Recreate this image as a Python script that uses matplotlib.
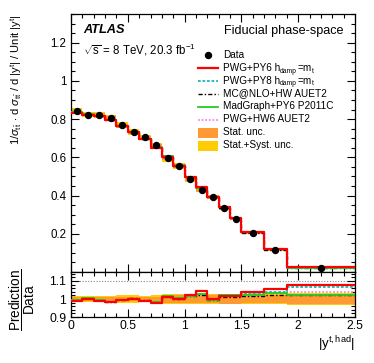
import numpy as np
import matplotlib
matplotlib.use("Agg")
import matplotlib.pyplot as plt
from matplotlib.lines import Line2D
from matplotlib.patches import Rectangle
from matplotlib.ticker import MultipleLocator

plt.rcParams['font.family'] = ['Liberation Sans', 'DejaVu Sans']
plt.rcParams['mathtext.fontset'] = 'custom'
plt.rcParams['mathtext.rm'] = 'Liberation Sans'
plt.rcParams['mathtext.it'] = 'Liberation Sans:italic'
plt.rcParams['mathtext.bf'] = 'Liberation Sans:bold'

# ---- data ----
bin_edges = [0.0, 0.1, 0.2, 0.3, 0.4, 0.5, 0.6, 0.7, 0.8, 0.9, 1.0,
             1.1, 1.2, 1.3, 1.4, 1.5, 1.7, 1.9, 2.5]
data_vals = [0.841, 0.824, 0.823, 0.807, 0.768, 0.732, 0.704, 0.664, 0.596,
             0.555, 0.487, 0.429, 0.393, 0.334, 0.278, 0.202, 0.115, 0.022]
stat_rel = [0.010, 0.010, 0.010, 0.010, 0.010, 0.010, 0.010, 0.012, 0.020,
            0.020, 0.021, 0.021, 0.022, 0.025, 0.025, 0.020, 0.024, 0.028]
stat_syst_rel = [0.018, 0.018, 0.018, 0.018, 0.020, 0.020, 0.018, 0.020, 0.030,
                 0.030, 0.028, 0.028, 0.028, 0.028, 0.028, 0.026, 0.030, 0.036]
# prediction / data ratios
ratio_pwgpy6 = [0.988, 1.000, 0.990, 0.983, 0.992, 1.000, 0.987, 0.978, 1.010,
                1.000, 1.022, 1.042, 1.000, 1.015, 1.018, 1.040, 1.053, 1.075]
ratio_pwgpy8 = [0.992, 1.002, 0.993, 0.985, 0.995, 1.002, 0.990, 0.982, 1.012,
                1.003, 1.018, 1.030, 0.998, 1.020, 1.020, 1.030, 1.038, 1.064]
ratio_mcnlo = [0.995, 1.003, 0.994, 0.986, 0.996, 1.004, 0.992, 0.985, 1.012,
               1.002, 1.015, 1.025, 0.995, 1.010, 1.012, 1.018, 1.020, 1.020]
ratio_madgraph = [0.995, 1.003, 0.993, 0.985, 0.996, 1.002, 0.991, 0.983, 1.015,
                  1.005, 1.018, 1.028, 0.995, 1.022, 1.022, 1.025, 1.031, 1.024]
ratio_pwghw6 = [0.993, 1.002, 0.992, 0.984, 0.994, 1.001, 0.990, 0.982, 1.011,
                1.002, 1.018, 1.030, 0.998, 1.020, 1.020, 1.030, 1.036, 1.040]

# legend labels: list of (text, is_subscript) pieces
label_pwgpy6 = [("PWG+PY6 h", False), ("damp", True), ("=m", False), ("t", True)]
label_pwgpy8 = [("PWG+PY8 h", False), ("damp", True), ("=m", False), ("t", True)]
label_mcnlo = [("MC@NLO+HW AUET2", False)]
label_madgraph = [("MadGraph+PY6 P2011C", False)]
label_pwghw6 = [("PWG+HW6 AUET2", False)]

edges = np.array(bin_edges)
data = np.array(data_vals)
centers = 0.5 * (edges[:-1] + edges[1:])
stat = np.array(stat_rel)
tot = np.array(stat_syst_rel)

models = [
    (label_pwgpy6, ratio_pwgpy6, dict(color='#ff0000', lw=1.6, ls='-'), 10),
    (label_pwgpy8, ratio_pwgpy8, dict(color='#1fb5b5', lw=1.3, ls=(0, (1.5, 1))), 7),
    (label_mcnlo, ratio_mcnlo, dict(color='black', lw=1.0, ls=(0, (3, 1.5, 1, 1.5))), 6),
    (label_madgraph, ratio_madgraph, dict(color='#22cc22', lw=1.3, ls='-'), 8),
    (label_pwghw6, ratio_pwghw6, dict(color='#ee88ee', lw=1.3, ls=(0, (1, 1))), 5),
]

c_stat = '#ff9933'
c_syst = '#ffcc00'

fig = plt.figure(figsize=(3.74, 3.63), dpi=100)
axm = fig.add_axes([0.190, 0.2507, 0.759, 0.7107])
axr = fig.add_axes([0.190, 0.1267, 0.759, 0.1240], sharex=axm)

def step(ax, y, **kw):
    yy = np.append(y, y[-1])
    return ax.step(edges, yy, where='post', **kw)

# main panel bands
ytot = np.append(tot, tot[-1])
ystat = np.append(stat, stat[-1])
dd = np.append(data, data[-1])
axm.fill_between(edges, dd * (1 - ytot), dd * (1 + ytot), step='post', color=c_syst, lw=0, zorder=1)
axm.fill_between(edges, dd * (1 - ystat), dd * (1 + ystat), step='post', color=c_stat, lw=0, zorder=2)
for name, r, st, z in models:
    step(axm, data * np.array(r), zorder=z, **st)
axm.plot(centers, data, 'o', color='black', ms=4.3, zorder=20)

# ratio panel
one = np.ones(len(edges))
axr.fill_between(edges, one - ytot, one + ytot, step='post', color=c_syst, lw=0, zorder=1)
axr.fill_between(edges, one - ystat, one + ystat, step='post', color=c_stat, lw=0, zorder=2)
for name, r, st, z in models:
    step(axr, np.array(r), zorder=z, **st)
axr.axhline(1.1, color='#888888', lw=0.8, ls=(0, (1, 1.5)), zorder=0)

axm.set_xlim(0, 2.5)
axm.set_ylim(0, 1.35)
axr.set_ylim(0.9, 1.15)

for ax in (axm, axr):
    ax.tick_params(which='both', direction='in', top=True, right=True, labelsize=8.3, width=0.8)
    ax.tick_params(which='major', length=6)
    ax.tick_params(which='minor', length=3)
    ax.xaxis.set_major_locator(MultipleLocator(0.5))
    ax.xaxis.set_minor_locator(MultipleLocator(0.1))
    for s in ax.spines.values():
        s.set_linewidth(0.9)

axm.yaxis.set_minor_locator(MultipleLocator(0.05))
axm.set_yticks([0.2, 0.4, 0.6, 0.8, 1.0, 1.2])
axm.set_yticklabels(['0.2', '0.4', '0.6', '0.8', '1', '1.2'])
axm.tick_params(axis='x', labelbottom=False)

axr.set_yticks([0.9, 1.0, 1.1])
axr.set_yticklabels(['0.9', '1', '1.1'])
axr.yaxis.set_minor_locator(MultipleLocator(0.02))
axr.set_xticks([0, 0.5, 1, 1.5, 2, 2.5])
axr.set_xticklabels(['0', '0.5', '1', '1.5', '2', '2.5'])
axr.tick_params(axis='x', labelsize=8.8, pad=2)
axr.tick_params(axis='y', labelsize=8.8)

# texts
axm.text(0.042, 0.938, 'ATLAS', transform=axm.transAxes, fontsize=9.2,
         fontweight='bold', style='italic', va='center', ha='left')
axm.text(0.042, 0.862, r'$\sqrt{\mathrm{s}}$ = 8 TeV, 20.3 fb$^{\mathrm{-1}}$', transform=axm.transAxes,
         fontsize=8.3, va='center', ha='left')
axm.text(0.958, 0.935, 'Fiducial phase-space', transform=axm.transAxes,
         fontsize=9.1, va='center', ha='right')

axm.set_ylabel(r'1/$\sigma_{\mathrm{t\bar{t}}}\,\cdot\,$d $\sigma_{\mathrm{t\bar{t}}}$ / d |y$^{\mathrm{t}}$| / Unit |y$^{\mathrm{t}}$|',
               fontsize=8.0, loc='top')
axm.yaxis.set_label_coords(-0.165, 1.0)
fig.text(0.060, 0.175, r'$\dfrac{\mathrm{Prediction}}{\mathrm{Data}}$', fontsize=9.8,
         rotation=90, ha='center', va='center')
axr.set_xlabel(r'|y$^{\mathrm{t,had}}$|', fontsize=9.5, loc='right', labelpad=2)

# legend (manual layout)
def ay(ypix):
    return (272.0 - ypix) / 258.0

fs_leg = 7.2
fs_sub = 4.9
x0, x1, xt = 0.447, 0.518, 0.534
rows = [55 + 12.95 * i for i in range(8)]
base_off = 2.6  # pixels from row centre to text baseline

def leg_text(ybase, pieces):
    prev = None
    for txt, sub in pieces:
        fs = fs_sub if sub else fs_leg
        dy = -1.4 if sub else 0.0
        if prev is None:
            prev = axm.text(xt, ybase, txt, transform=axm.transAxes, fontsize=fs, va='baseline')
        else:
            prev = axm.annotate(txt, xy=(1, ybase), xycoords=(prev, axm.transAxes),
                                xytext=(0.2, dy), textcoords='offset points',
                                fontsize=fs, va='baseline', ha='left')

axm.add_line(Line2D([0.5 * (x0 + x1)], [ay(rows[0])], marker='o', color='black', ms=4.3,
                    ls='none', transform=axm.transAxes, clip_on=False))
leg_text(ay(rows[0] + base_off), [('Data', False)])
for i, (name, r, st, z) in enumerate(models):
    yy = ay(rows[i + 1])
    axm.add_line(Line2D([x0, x1], [yy, yy], transform=axm.transAxes, clip_on=False, **st))
    leg_text(ay(rows[i + 1] + base_off), name)
for j, (lab, col) in enumerate([('Stat. unc.', c_stat), ('Stat.+Syst. unc.', c_syst)]):
    yy = ay(rows[6 + j])
    axm.add_patch(Rectangle((x0, yy - 0.019), x1 - x0, 0.038, color=col, lw=0,
                            transform=axm.transAxes, clip_on=False))
    leg_text(ay(rows[6 + j] + base_off), [(lab, False)])

fig.savefig('out.png', dpi=100)
